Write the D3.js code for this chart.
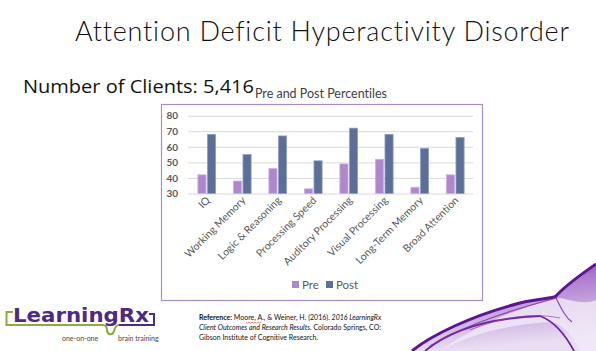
<!DOCTYPE html>
<html>
<head>
<meta charset="utf-8">
<script src="https://cdn.jsdelivr.net/npm/d3@7/dist/d3.min.js"></script>
<style>
  body { margin: 0; background: #fff; }
  svg { display: block; }
  text { font-variant-ligatures: none; }
</style>
</head>
<body>
<div id="chart"></div>
<script>
// pre / post percentiles chart for ADHD slide
let categories = ['IQ', 'Working Memory', 'Logic & Reasoning', 'Processing Speed',
                  'Auditory Processing', 'Visual Processing', 'Long-Term Memory', 'Broad Attention']
let preValues  = [42, 38, 46, 33, 49, 52, 34, 42]
let postValues = [68, 55, 67, 51, 72, 68, 59, 66]
let seriesNames = ['Pre', 'Post']
let yTicks = [30, 40, 50, 60, 70, 80]

let colors = { Pre: '#B086CD', Post: '#5B6F99' }
let strokes = { Pre: '#CDB0E2', Post: '#8FA0C2' }

let W = 596, H = 351
let svg = d3.select('#chart').append('svg').attr('width', W).attr('height', H)

// purple swirl in the bottom right corner
let defs = svg.append('defs')
let grad = defs.append('linearGradient').attr('id', 'swirl').attr('x1', 0).attr('y1', 0).attr('x2', 0.2).attr('y2', 1)
grad.append('stop').attr('offset', '0%').attr('stop-color', '#7a2aa8')
grad.append('stop').attr('offset', '30%').attr('stop-color', '#a978cc')
grad.append('stop').attr('offset', '100%').attr('stop-color', '#e9def3')
svg.append('path')
    .attr('d', 'M412 351 C430 336,470 316,520 303 C540 298,552 299,556 296 C568 283,582 274,596 264 L596 351 Z')
    .attr('fill', 'url(#swirl)')
svg.append('path')
    .attr('d', 'M440 351 C470 334,510 324,552 322 C566 326,575 340,580 351 L596 351 L596 300 C585 305,570 300,560 298 C530 304,480 322,440 351 Z')
    .attr('fill', '#f1eaf7').attr('opacity', 0.8)
svg.append('path')
    .attr('d', 'M412 351 C430 336,470 316,520 303 C540 298,552 299,556 296 C568 283,582 274,596 264')
    .attr('fill', 'none').attr('stroke', '#5e1590').attr('stroke-width', 3)
svg.append('path')
    .attr('d', 'M425 351 C450 330,490 318,540 316 C556 322,566 336,574 351')
    .attr('fill', 'none').attr('stroke', '#6f23a0').attr('stroke-width', 1.8)
svg.append('path')
    .attr('d', 'M430 346 C470 322,520 308,556 298 C562 310,566 318,572 322')
    .attr('fill', 'none').attr('stroke', '#7b2ea8').attr('stroke-width', 1.2).attr('opacity', 0.85)
svg.append('path')
    .attr('d', 'M470 330 C500 318,530 312,560 318')
    .attr('fill', 'none').attr('stroke', '#8e44b8').attr('stroke-width', 1).attr('opacity', 0.7)

// slide title
svg.append('text')
    .attr('x', 75).attr('y', 41)
    .attr('textLength', 494).attr('lengthAdjust', 'spacing')
    .style('font-family', 'Lato, sans-serif').style('font-weight', 300)
    .style('font-size', '27px').attr('fill', '#111')
    .text('Attention Deficit Hyperactivity Disorder')

svg.append('text')
    .attr('x', 23).attr('y', 93)
    .attr('textLength', 231).attr('lengthAdjust', 'spacingAndGlyphs')
    .style('font-family', '"Open Sans", sans-serif').style('font-weight', 400)
    .style('font-size', '19px').attr('fill', '#111')
    .text('Number of Clients: 5,416')

// chart frame
let frame = { x: 161, y: 104, w: 321, h: 196 }
svg.append('rect')
    .attr('x', frame.x + 0.5).attr('y', frame.y + 0.5)
    .attr('width', frame.w).attr('height', frame.h)
    .attr('fill', '#fff').attr('stroke', '#A88CC6').attr('stroke-width', 1.2)

svg.append('text')
    .attr('x', 321).attr('y', 98).attr('text-anchor', 'middle')
    .style('font-family', 'Lato, sans-serif').style('font-size', '12.5px').attr('fill', '#404040')
    .text('Pre and Post Percentiles')

let x = d3.scaleBand().domain(categories).range([189, 473]).paddingInner(0.5).paddingOuter(0.25)
let xSub = d3.scaleBand().domain(seriesNames).range([0, x.bandwidth()]).paddingInner(0.15)
let y = d3.scaleLinear().domain([30, 80]).range([193.5, 115.7])

// gridlines + y labels
let yAxis = svg.append('g').attr('transform', 'translate(188,0)')
    .call(d3.axisLeft(y).tickValues(yTicks).tickSize(-285).tickPadding(10))
yAxis.select('.domain').remove()
yAxis.selectAll('.tick line').attr('stroke', '#D9D9D9')
yAxis.selectAll('.tick text')
    .style('font-family', 'Lato, sans-serif').style('font-weight', 'bold')
    .style('font-size', '10px').attr('fill', '#595959')

// bars
let rows = categories.map((c, i) => ({ cat: c, Pre: preValues[i], Post: postValues[i] }))
let groups = svg.append('g').selectAll('g').data(rows).join('g')
    .attr('transform', d => `translate(${x(d.cat)},0)`)
groups.selectAll('rect')
    .data(d => seriesNames.map(s => ({ s: s, v: d[s] })))
    .join('rect')
    .attr('x', d => xSub(d.s))
    .attr('width', xSub.bandwidth())
    .attr('y', d => y(d.v))
    .attr('height', d => y(30) - y(d.v))
    .attr('fill', d => colors[d.s])
    .attr('stroke', d => strokes[d.s]).attr('stroke-width', 0.8)

// rotated category labels
svg.append('g').selectAll('text').data(categories).join('text')
    .attr('transform', d => `translate(${x(d) + x.bandwidth() / 2 + 4},201) rotate(-45)`)
    .attr('text-anchor', 'end')
    .style('font-family', 'Lato, sans-serif').style('font-size', '10.5px').attr('fill', '#595959')
    .text(d => d)

// legend
let legend = svg.append('g').attr('transform', 'translate(292,281)')
let items = legend.selectAll('g').data(seriesNames).join('g')
    .attr('transform', (d, i) => `translate(${i * 34},0)`)
items.append('rect').attr('width', 7).attr('height', 7).attr('fill', d => colors[d])
items.append('text').attr('x', 10).attr('y', 7.5)
    .style('font-family', 'Lato, sans-serif').style('font-size', '11.5px').attr('fill', '#595959')
    .text(d => d)

// reference note
let ref = svg.append('text').style('font-family', 'Lato, sans-serif').style('font-size', '7px').attr('fill', '#111')
let l1 = ref.append('tspan').attr('x', 199).attr('y', 320)
l1.append('tspan').style('font-weight', 'bold').text('Reference: ')
l1.append('tspan').text('Moore, A., & Weiner, H. (2016). ')
l1.append('tspan').style('font-style', 'italic').text('2016 LearningRx')
let l2 = ref.append('tspan').attr('x', 199).attr('y', 330)
l2.append('tspan').style('font-style', 'italic').text('Client Outcomes and Research Results.')
l2.append('tspan').text(' Colorado Springs, CO:')
ref.append('tspan').attr('x', 199).attr('y', 339.5).text('Gibson Institute of Cognitive Research.')
svg.append('path')
    .attr('d', 'M246 322 l1.5 1.2 l1.5 -1.2 l1.5 1.2 l1.5 -1.2 l1.5 1.2 l1.5 -1.2 l1.5 1.2 l1.5 -1.2 l1.5 1.2 l1.5 -1.2')
    .attr('fill', 'none').attr('stroke', '#e03030').attr('stroke-width', 0.6)

// LearningRx logo
let logo = svg.append('g')
logo.append('path')
    .attr('d', 'M13 312 H6.5 V325 H103 C106 325,107 327,107 330 C107 335,113 336,114 331 C115 327,116 325,119 325')
    .attr('fill', 'none').attr('stroke', '#8DAA3C').attr('stroke-width', 2)
logo.append('path')
    .attr('d', 'M119 325 H154 V314 H149')
    .attr('fill', 'none').attr('stroke', '#4E2A84').attr('stroke-width', 2)
logo.append('text')
    .attr('x', 13).attr('y', 322)
    .attr('textLength', 136).attr('lengthAdjust', 'spacingAndGlyphs')
    .style('font-family', '"DejaVu Sans", sans-serif').style('font-weight', 'bold')
    .style('font-size', '19px').attr('fill', '#4E2A84')
    .text('LearningRx')
logo.append('text').attr('x', 62).attr('y', 341)
    .style('font-family', 'Lato, sans-serif').style('font-size', '7px').attr('fill', '#444')
    .text('one-on-one')
logo.append('text').attr('x', 118).attr('y', 341)
    .style('font-family', 'Lato, sans-serif').style('font-size', '7px').attr('fill', '#444')
    .text('brain training')
</script>
</body>
</html>
